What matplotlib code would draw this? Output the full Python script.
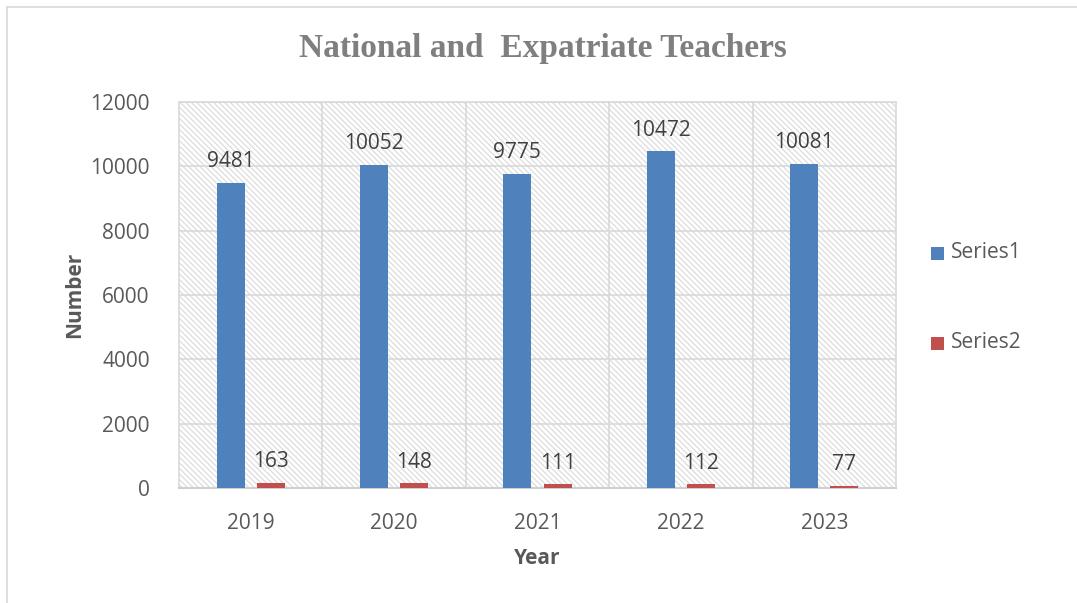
import matplotlib
matplotlib.use("Agg")
import matplotlib.pyplot as plt
from matplotlib.patches import Rectangle
from matplotlib.lines import Line2D
import numpy as np

years = ["2019", "2020", "2021", "2022", "2023"]
series1 = [9481, 10052, 9775, 10472, 10081]
series2 = [163, 148, 111, 112, 77]
yticks = [0, 2000, 4000, 6000, 8000, 10000, 12000]

blue = "#4f81bd"
red = "#c0504d"
txt = "#595959"
grid = "#d9d9d9"

plt.rcParams['hatch.linewidth'] = 0.8
plt.rcParams['hatch.color'] = "#d9d9d9"

fig = plt.figure(figsize=(10.77, 6.03), dpi=100)
W, H = 1077, 603
ax = fig.add_axes([179 / W, 1 - 488 / H, (896 - 179) / W, (488 - 102) / H])

# figure border (left and top)
fig.add_artist(Line2D([7 / W, 7 / W], [0, 1 - 7 / H], color="#d9d9d9", lw=1.2))
fig.add_artist(Line2D([7 / W, 1], [1 - 7 / H, 1 - 7 / H], color="#d9d9d9", lw=1.2))

x = np.arange(len(years))
bw = 0.195
off = 0.14
ax.add_patch(Rectangle((0, 0), 1, 1, transform=ax.transAxes, facecolor="white",
                       edgecolor="#d9d9d9", hatch="\\\\\\\\\\\\", lw=0, zorder=0))
ax.bar(x - off, series1, bw, color=blue, zorder=3, label="Series1")
ax.bar(x + off, series2, bw, color=red, zorder=3, label="Series2")

for xi, v in zip(x, series1):
    ax.text(xi - off, v + 330, str(v), ha="center", va="bottom", fontsize=15,
            color="#404040", family="Open Sans")
for xi, v in zip(x, series2):
    ax.text(xi + off, v + 330, str(v), ha="center", va="bottom", fontsize=15,
            color="#404040", family="Open Sans")

ax.set_xlim(-0.5, len(years) - 0.5)
ax.set_ylim(0, 12000)
ax.set_yticks(yticks)
ax.set_yticklabels([str(t) for t in yticks])
ax.set_xticks(x)
ax.set_xticklabels(years)
ax.tick_params(axis="both", length=0, labelsize=15, labelcolor=txt)
for lab in ax.get_xticklabels() + ax.get_yticklabels():
    lab.set_family("Open Sans")
ax.tick_params(axis="y", pad=21)
ax.tick_params(axis="x", pad=18)

for t in yticks[1:]:
    ax.axhline(t, color=grid, lw=1.2, zorder=1)
for b in np.arange(0.5, len(years) - 0.5, 1):
    ax.axvline(b, color=grid, lw=1.2, zorder=1)
for s in ax.spines.values():
    s.set_color(grid)
    s.set_linewidth(1.2)
ax.spines["bottom"].set_color("#d0d0d0")
ax.spines["bottom"].set_linewidth(1.5)
ax.set_facecolor("white")

ax.set_xlabel("Year", fontsize=15, fontweight="bold", color=txt, family="Open Sans", labelpad=10)
ax.set_ylabel("Number", fontsize=15, fontweight="bold", color=txt, family="Open Sans", labelpad=4)

fig.text(543 / W, 1 - 48 / H, "National and  Expatriate Teachers", ha="center", va="center",
         fontsize=24, fontweight="bold", color="#7f7f7f", family="Liberation Serif")

# legend
fig.add_artist(Rectangle((931 / W, 1 - 260 / H), 13 / W, 13 / H, transform=fig.transFigure,
                         facecolor=blue, edgecolor="none"))
fig.text(951 / W, 1 - 253 / H, "Series1", ha="left", va="center", fontsize=15,
         color=txt, family="Open Sans")
fig.add_artist(Rectangle((931 / W, 1 - 350 / H), 13 / W, 13 / H, transform=fig.transFigure,
                         facecolor=red, edgecolor="none"))
fig.text(951 / W, 1 - 343 / H, "Series2", ha="left", va="center", fontsize=15,
         color=txt, family="Open Sans")

fig.savefig("out.png", dpi=100)
